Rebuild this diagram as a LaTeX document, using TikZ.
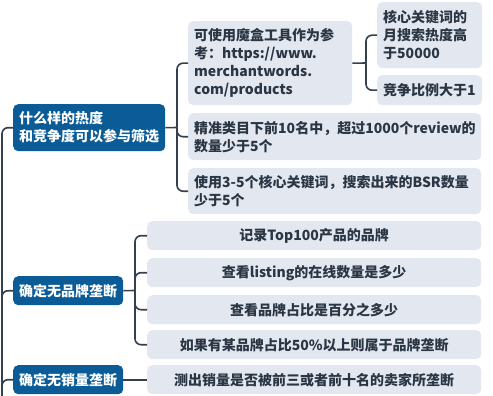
\documentclass[tikz,border=0pt]{standalone}
\usepackage{fontspec}
\setmainfont{Noto Sans CJK SC}
\definecolor{darkblue}{HTML}{0B5B97}
\definecolor{lightbox}{HTML}{E3E8F0}
\definecolor{linec}{HTML}{34404F}
\definecolor{txt}{HTML}{2B3644}
\tikzset{
  base/.style={rectangle, rounded corners=5pt, anchor=north west, inner xsep=6pt, inner ysep=2pt, font=\fontsize{14}{18}\selectfont\bfseries},
  dark/.style={base, fill=darkblue, text=white, align=left},
  light/.style={base, fill=lightbox, text=txt, align=left},
  lightc/.style={base, fill=lightbox, text=txt, align=center},
  conn/.style={draw=linec, line width=1.6pt, rounded corners=6pt},
}
\begin{document}
\begin{tikzpicture}[x=1pt,y=-1pt]
\useasboundingbox (0,0) rectangle (493,396);
% main branches
\node[dark, minimum width=152pt, minimum height=47pt, text width=140pt] (D1) at (13,104) {什么样的热度\\和竞争度可以参与筛选};
\node[dark, minimum width=110pt, minimum height=29pt, text width=98pt] (D2) at (13,276) {确定无品牌垄断};
\node[dark, minimum width=110pt, minimum height=29pt, text width=98pt] (D3) at (13,365) {确定无销量垄断};
% children of D1
\node[light, minimum width=164pt, minimum height=84pt, text width=152pt] (A) at (188,21) {可使用魔盒工具作为参\\考：https://www.\\merchantwords.\\com/products};
\node[light, minimum width=293pt, minimum height=47pt, text width=281pt] (B) at (188,113) {精准类目下前10名中，超过1000个review的\\数量少于5个};
\node[light, minimum width=293pt, minimum height=46pt, text width=281pt] (C) at (188,168) {使用3-5个核心关键词，搜索出来的BSR数量\\少于5个};
% children of A
\node[light, minimum width=105pt, minimum height=66pt, text width=93pt] (A1) at (377,2) {核心关键词的\\月搜索热度高\\于50000};
\node[light, minimum width=105pt, minimum height=30pt, text width=93pt] (A2) at (377,75) {竞争比例大于1};
% children of D2
\node[lightc, minimum width=334pt, minimum height=29pt, text width=322pt] (E1) at (147,221) {记录Top100产品的品牌};
\node[lightc, minimum width=334pt, minimum height=29pt, text width=322pt] (E2) at (147,258) {查看listing的在线数量是多少};
\node[lightc, minimum width=334pt, minimum height=29pt, text width=322pt] (E3) at (147,295) {查看品牌占比是百分之多少};
\node[lightc, minimum width=334pt, minimum height=29pt, text width=322pt] (E4) at (147,330) {如果有某品牌占比50\%以上则属于品牌垄断};
% child of D3
\node[lightc, minimum width=334pt, minimum height=29pt, text width=322pt] (F) at (147,365) {测出销量是否被前三或者前十名的卖家所垄断};
% root connectors
\coordinate (rb) at (2,396);
\draw[conn] (rb) |- (D1.west);
\draw[conn] (rb) |- (D2.west);
\draw[conn] (rb) |- (D3.west);
% D1 bracket
\coordinate (j1) at (177,127.5);
\draw[conn] (D1.east) -- (j1);
\draw[conn] (j1) |- (A.west);
\draw[conn] (j1) |- (B.west);
\draw[conn] (j1) |- (C.west);
% A bracket
\coordinate (j2) at (366,63);
\draw[conn] (A.east) -- (j2);
\draw[conn] (j2) |- (A1.west);
\draw[conn] (j2) |- (A2.west);
% D2 bracket
\coordinate (j3) at (135,290.5);
\draw[conn] (D2.east) -- (j3);
\draw[conn] (j3) |- (E1.west);
\draw[conn] (j3) |- (E2.west);
\draw[conn] (j3) |- (E3.west);
\draw[conn] (j3) |- (E4.west);
% D3
\draw[conn] (D3.east) -- (F.west);
\end{tikzpicture}
\end{document}
